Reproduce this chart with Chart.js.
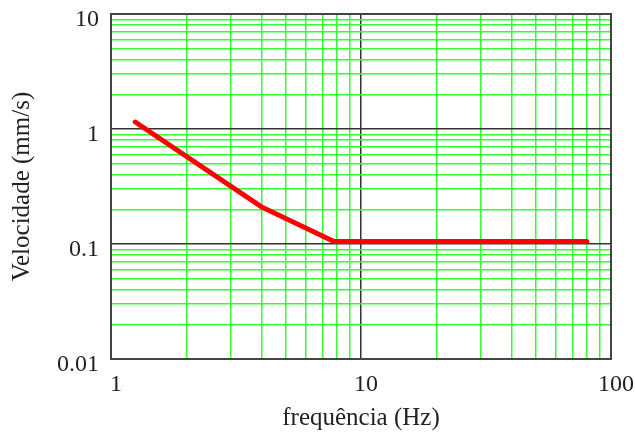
<!DOCTYPE html>
<html>
<head>
<meta charset="utf-8">
<script src="https://cdn.jsdelivr.net/npm/chart.js@4.4.1/dist/chart.umd.min.js"></script>
<style>
  html, body { margin: 0; padding: 0; background: #fff; }
  #wrap { width: 635px; height: 433px; }
</style>
</head>
<body>
<div id="wrap"><canvas id="myChart"></canvas></div>
<script>
var freq = [1.25, 4, 7.8, 80];
var velocity = [1.15, 0.21, 0.105, 0.105];
var xTicks = [1, 10, 100];
var yTicks = [0.01, 0.1, 1, 10];

function decadeTicks(min, max) {
  var out = [];
  for (var d = min; d < max; d *= 10) {
    for (var m = 1; m < 10; m++) out.push({ value: +(d * m).toPrecision(3) });
  }
  out.push({ value: max });
  return out;
}

function isMajor(list, v) {
  return list.some(function (t) { return Math.abs(t - v) / t < 1e-6; });
}

var serif = "'Liberation Serif', 'Times New Roman', serif";
var points = freq.map(function (f, i) { return { x: f, y: velocity[i] }; });

new Chart("myChart", {
  type: "line",
  data: {
    datasets: [{
      data: points,
      borderColor: "#ff0000",
      borderWidth: 5,
      borderCapStyle: "round",
      pointRadius: 0,
      tension: 0
    }]
  },
  options: {
    responsive: true,
    maintainAspectRatio: false,
    animation: false,
    layout: { padding: { top: 14, right: 24, left: 0, bottom: 0 } },
    plugins: { legend: { display: false }, tooltip: { enabled: false } },
    scales: {
      x: {
        type: "logarithmic",
        min: 1,
        max: 100,
        afterBuildTicks: function (scale) { scale.ticks = decadeTicks(1, 100); },
        afterFit: function (scale) {
          scale.height = 74;
          scale.paddingLeft = 0;
          scale.paddingRight = 0;
        },
        grid: {
          drawTicks: false,
          color: function (ctx) { return isMajor(xTicks, ctx.tick.value) ? "#333" : "#33ff33"; },
          lineWidth: 1.5
        },
        border: { color: "#444", width: 2 },
        ticks: {
          autoSkip: false,
          maxRotation: 0,
          padding: 11,
          labelOffset: 5,
          color: "#222",
          font: { family: serif, size: 24 },
          callback: function (v) { return isMajor(xTicks, v) ? String(v) : ""; }
        },
        title: {
          display: true,
          text: "frequência (Hz)",
          color: "#222",
          font: { family: serif, size: 25 },
          padding: { top: 2, bottom: 0 }
        }
      },
      y: {
        type: "logarithmic",
        min: 0.01,
        max: 10,
        afterBuildTicks: function (scale) { scale.ticks = decadeTicks(0.01, 10); },
        afterFit: function (scale) {
          scale.width = 111;
          scale.paddingTop = 0;
          scale.paddingBottom = 0;
        },
        grid: {
          drawTicks: false,
          color: function (ctx) { return isMajor(yTicks, ctx.tick.value) ? "#333" : "#33ff33"; },
          lineWidth: 1.5
        },
        border: { color: "#444", width: 2 },
        ticks: {
          autoSkip: false,
          padding: 12,
          labelOffset: 6,
          color: "#222",
          font: { family: serif, size: 24 },
          callback: function (v) { return isMajor(yTicks, v) ? String(v) : ""; }
        },
        title: {
          display: true,
          text: "Velocidade (mm/s)",
          color: "#222",
          font: { family: serif, size: 25 },
          padding: { top: 7, bottom: 4 }
        }
      }
    }
  },
  plugins: [{
    id: "frame",
    afterDraw: function (chart) {
      var a = chart.chartArea, c = chart.ctx;
      c.save();
      c.strokeStyle = "#444";
      c.lineWidth = 2;
      c.strokeRect(a.left, a.top, a.right - a.left, a.bottom - a.top);
      c.restore();
    }
  }]
});
</script>
</body>
</html>
